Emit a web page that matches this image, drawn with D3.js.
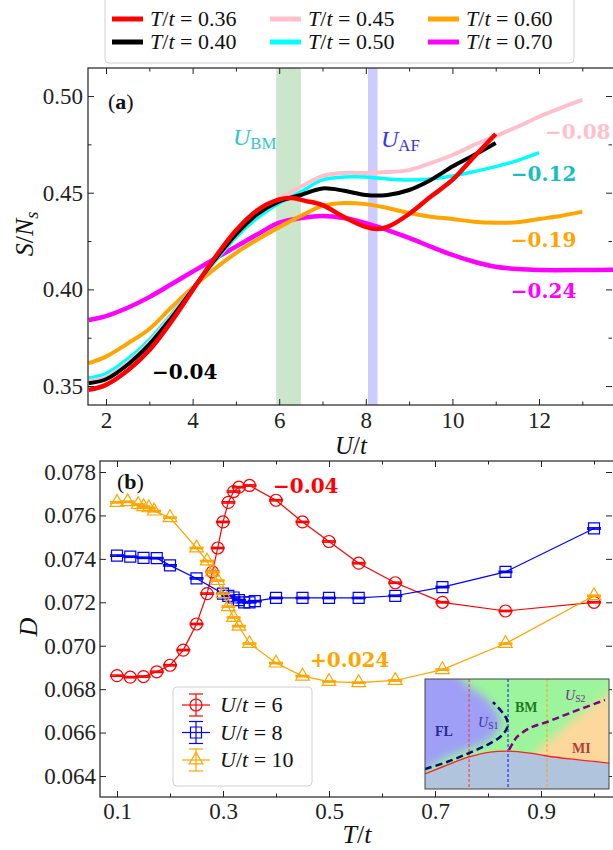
<!DOCTYPE html>
<html>
<head>
<meta charset="utf-8">
<script src="https://cdn.jsdelivr.net/npm/d3@7"></script>
<style>
  html, body { margin: 0; padding: 0; background: #fff; }
  svg { display: block; }
</style>
</head>
<body>
<div id="chart"></div>
<script>
// ---- panel (a): S/N_s vs U/t, one curve per temperature ----
const tempLabels = ["0.36", "0.40", "0.45", "0.50", "0.60", "0.70"];
const tempColors = ["#ff0000", "#000000", "#ffc0cb", "#00ffff", "#ffa500", "#ff00ff"];
const tempWidths = [4.5, 4, 4, 3.5, 4, 4.5];

const uT036 = [1.6, 2, 2.5, 3, 3.5, 4, 4.5, 5, 5.5, 6, 6.3, 6.6, 7, 7.5, 8, 8.25, 8.5, 9, 9.5, 10, 10.5, 11];
const sT036 = [0.348, 0.3506, 0.358, 0.3685, 0.383, 0.3995, 0.416, 0.4305, 0.441, 0.4465, 0.4472, 0.4458, 0.4436, 0.4374, 0.4323, 0.4312, 0.4323, 0.439, 0.448, 0.4566, 0.4686, 0.4804];

const uT040 = [1.6, 2, 2.5, 3, 3.5, 4, 4.5, 5, 5.5, 6, 6.5, 7, 7.5, 8, 8.5, 9, 9.5, 10, 10.5, 11];
const sT040 = [0.3515, 0.3535, 0.361, 0.3715, 0.385, 0.4, 0.415, 0.4285, 0.439, 0.4455, 0.4488, 0.4522, 0.451, 0.4488, 0.4488, 0.4514, 0.4566, 0.4635, 0.4695, 0.4757];

const uT045 = [1.6, 2, 2.5, 3, 3.5, 4, 4.5, 5, 5.5, 6, 6.5, 7, 7.5, 8, 8.5, 9, 9.5, 10, 10.5, 11, 11.5, 12, 12.5, 13];
const sT045 = [0.3525, 0.3545, 0.362, 0.3725, 0.386, 0.4003, 0.4152, 0.429, 0.4395, 0.447, 0.4531, 0.4586, 0.4602, 0.4602, 0.4607, 0.4617, 0.4653, 0.4695, 0.4747, 0.4793, 0.4841, 0.4893, 0.4938, 0.498];

const uT050 = [1.6, 2, 2.5, 3, 3.5, 4, 4.5, 5, 5.5, 6, 6.5, 7, 7.5, 8, 8.5, 9, 9.5, 10, 10.5, 11, 11.5, 12];
const sT050 = [0.3542, 0.3565, 0.364, 0.374, 0.387, 0.4005, 0.414, 0.427, 0.437, 0.4445, 0.4505, 0.4566, 0.4581, 0.4581, 0.4571, 0.4566, 0.4571, 0.4586, 0.4609, 0.4635, 0.4666, 0.4707];

const uT060 = [1.6, 2, 2.5, 3, 3.5, 4, 4.5, 5, 5.5, 6, 6.5, 7, 7.5, 8, 8.5, 9, 9.5, 10, 10.5, 11, 11.5, 12, 12.5, 13];
const sT060 = [0.3618, 0.3652, 0.372, 0.3795, 0.3905, 0.401, 0.4105, 0.4188, 0.4258, 0.4322, 0.438, 0.4432, 0.4447, 0.4441, 0.4421, 0.4395, 0.4376, 0.4364, 0.435, 0.4345, 0.4347, 0.4364, 0.438, 0.4402];

const uT070 = [1.6, 2, 2.5, 3, 3.5, 4, 4.5, 5, 5.5, 6, 6.5, 7, 7.5, 8, 8.5, 9, 9.5, 10, 10.5, 11, 11.5, 12, 13, 13.8];
const sT070 = [0.3842, 0.3862, 0.3905, 0.396, 0.4025, 0.4092, 0.4157, 0.4221, 0.4285, 0.4345, 0.4369, 0.438, 0.4369, 0.4343, 0.4307, 0.4266, 0.4221, 0.4178, 0.4143, 0.4117, 0.4105, 0.41, 0.41, 0.4102];

const slopeLabels = ["\u22120.04", "\u22120.08", "\u22120.12", "\u22120.19", "\u22120.24"];
const slopeColors = ["#000000", "#ffc0cb", "#17bfbf", "#ffa500", "#ff00ff"];
const slopeU = [3.06, 12.14, 11.35, 11.35, 11.35];
const slopeS = [0.3536, 0.4777, 0.456, 0.4219, 0.3955];

const bmBand = [5.93, 6.5];
const afBand = [8.05, 8.27];

const xTicksA = [2, 4, 6, 8, 10, 12];
const xMinorA = [3, 5, 7, 9, 11, 13];
const yTicksA = [0.35, 0.40, 0.45, 0.50];
const yMinorA = [0.375, 0.425, 0.475];

// ---- panel (b): D vs T/t ----
const tU6 = [0.1, 0.125, 0.15, 0.175, 0.2, 0.225, 0.25, 0.27, 0.28, 0.29, 0.30, 0.31, 0.32, 0.33, 0.35, 0.4, 0.45, 0.5, 0.556, 0.625, 0.714, 0.833, 1.0];
const dU6 = [0.06862, 0.06855, 0.06858, 0.0688, 0.0691, 0.0698, 0.0710, 0.0724, 0.0734, 0.0745, 0.0757, 0.0766, 0.0771, 0.0773, 0.07738, 0.0767, 0.0757, 0.0748, 0.0738, 0.0729, 0.0720, 0.0716, 0.0720];

const tU8 = [0.1, 0.125, 0.15, 0.175, 0.2, 0.25, 0.3, 0.31, 0.32, 0.33, 0.34, 0.35, 0.36, 0.4, 0.45, 0.5, 0.556, 0.625, 0.714, 0.833, 1.0];
const dU8 = [0.07415, 0.0741, 0.07405, 0.07403, 0.0737, 0.0731, 0.0724, 0.0723, 0.07222, 0.0721, 0.0720, 0.0720, 0.07205, 0.0722, 0.0722, 0.0722, 0.0722, 0.0723, 0.0727, 0.0734, 0.0754];

const tU10 = [0.1, 0.12, 0.14, 0.15, 0.16, 0.17, 0.2, 0.25, 0.27, 0.28, 0.29, 0.30, 0.31, 0.32, 0.33, 0.35, 0.4, 0.45, 0.5, 0.556, 0.625, 0.714, 0.833, 1.0];
const dU10 = [0.0766, 0.07663, 0.0765, 0.0764, 0.07635, 0.0762, 0.0759, 0.0745, 0.0739, 0.0734, 0.0730, 0.0724, 0.0718, 0.0713, 0.0709, 0.0701, 0.0692, 0.0686, 0.06835, 0.0683, 0.0684, 0.0689, 0.0701, 0.0723];

const errU6 = 0.00003;
const errU8 = 0.00003;
const errU10 = 0.00003;

const xTicksB = [0.1, 0.3, 0.5, 0.7, 0.9];
const xMinorB = [0.2, 0.4, 0.6, 0.8, 1.0];
const yTicksB = [0.064, 0.066, 0.068, 0.070, 0.072, 0.074, 0.076, 0.078];

// ---- inset phase diagram (x in U/t, y as fraction of inset height) ----
const insetRedU = [3.5, 4.87, 6.0, 7.08, 8.0, 9.13, 10.0, 11.18, 13.4];
const insetRedY = [0.12, 0.218, 0.291, 0.336, 0.345, 0.327, 0.3, 0.273, 0.232];
const insetS1U = [3.74, 4.87, 6.0, 6.92, 7.59, 7.95, 7.95, 7.69, 7.23];
const insetS1Y = [0.182, 0.245, 0.327, 0.4, 0.473, 0.555, 0.627, 0.7, 0.79];
const insetS2U = [8.05, 8.25, 8.46, 9.13, 10.0, 11.18, 12.97];
const insetS2Y = [0.355, 0.418, 0.473, 0.555, 0.609, 0.691, 0.809];
const insetFLU = [2.8, 4.6, 5.9, 7.0, 7.6, 7.2, 6.2, 5.0, 2.8];
const insetFLY = [1.3, 1.2, 0.95, 0.8, 0.62, 0.47, 0.38, 0.3, 0.14];
const insetMIU = [14.2, 13.18, 11.8, 10.5, 9.4, 14.2];
const insetMIY = [1.05, 0.87, 0.69, 0.5, 0.3, 0.2];
const insetDashU = [6, 8, 10];
const insetDashColors = ["#ff3030", "#1010ff", "#ffa500"];

// ---------------------------------------------------------------
const width = 613;
const height = 850;
const serif = "'Liberation Serif', 'Times New Roman', serif";
const boldSerif = "'DejaVu Serif', serif";

const svg = d3.select("#chart")
  .append("svg")
  .attr("width", width)
  .attr("height", height)
  .attr("viewBox", `0 0 ${width} ${height}`)
  .attr("font-family", serif)
  .attr("fill", "#111");

const defs = svg.append("defs");

// write a math-like label from parts [text, italic?, sub?]
const mathText = (sel, parts) => {
  parts.forEach(([t, it, sub]) => {
    const ts = sel.append("tspan").text(t);
    if (it) ts.attr("font-style", "italic");
    if (sub) ts.attr("font-size", "0.7em").attr("dy", "0.25em");
  });
  return sel;
};

const frameColor = "#222";

const styleAxis = (g, fontSize) => {
  g.select(".domain").remove();
  g.selectAll("line").attr("stroke", frameColor).attr("stroke-width", 1);
  g.selectAll("text")
    .attr("font-family", serif)
    .attr("font-size", fontSize)
    .attr("fill", "#222");
};

// ================= panel (a) =================
const pa = { left: 88, top: 68, right: 615, bottom: 405 };

const xA = d3.scaleLinear().domain([1.584, 13.755]).range([pa.left, pa.right]);
const yA = d3.scaleLinear().domain([0.3402, 0.5145]).range([pa.bottom, pa.top]);

defs.append("clipPath").attr("id", "clipA")
  .append("rect")
  .attr("x", pa.left).attr("y", pa.top)
  .attr("width", pa.right - pa.left).attr("height", pa.bottom - pa.top);

const layerA = svg.append("g").attr("clip-path", "url(#clipA)");

// shaded bands
layerA.append("rect")
  .attr("x", xA(bmBand[0])).attr("width", xA(bmBand[1]) - xA(bmBand[0]))
  .attr("y", pa.top).attr("height", pa.bottom - pa.top)
  .attr("fill", "green").attr("fill-opacity", 0.2);
layerA.append("rect")
  .attr("x", xA(afBand[0])).attr("width", xA(afBand[1]) - xA(afBand[0]))
  .attr("y", pa.top).attr("height", pa.bottom - pa.top)
  .attr("fill", "blue").attr("fill-opacity", 0.2);

const seriesA = [
  { u: uT036, s: sT036 },
  { u: uT040, s: sT040 },
  { u: uT045, s: sT045 },
  { u: uT050, s: sT050 },
  { u: uT060, s: sT060 },
  { u: uT070, s: sT070 },
].map((d, i) => ({
  pts: d.u.map((u, j) => [u, d.s[j]]),
  color: tempColors[i],
  width: tempWidths[i],
}));

const lineA = d3.line()
  .x((d) => xA(d[0]))
  .y((d) => yA(d[1]))
  .curve(d3.curveCatmullRom.alpha(0.5));

// draw highest temperature first so red ends on top
layerA.selectAll("path.curve")
  .data(seriesA.slice().reverse())
  .enter()
  .append("path")
  .attr("class", "curve")
  .attr("d", (d) => lineA(d.pts))
  .attr("fill", "none")
  .attr("stroke", (d) => d.color)
  .attr("stroke-width", (d) => d.width)
  .attr("stroke-linecap", "butt");

// slope labels
svg.selectAll("text.slope")
  .data(slopeLabels)
  .enter()
  .append("text")
  .attr("class", "slope")
  .attr("x", (d, i) => xA(slopeU[i]))
  .attr("y", (d, i) => yA(slopeS[i]))
  .attr("font-family", boldSerif)
  .attr("font-weight", "bold")
  .attr("font-size", 20)
  .attr("fill", (d, i) => slopeColors[i])
  .text((d) => d);

// U_BM and U_AF labels
mathText(
  svg.append("text").attr("x", 233).attr("y", 145).attr("font-size", 24).attr("fill", "#35c4c4"),
  [["U", true], ["BM", false, true]]
);
mathText(
  svg.append("text").attr("x", 381).attr("y", 147).attr("font-size", 24).attr("fill", "#3535ee"),
  [["U", true], ["AF", false, true]]
);

// axes (a)
const axA = svg.append("g");
axA.append("g").attr("transform", `translate(0,${pa.bottom})`)
  .call(d3.axisBottom(xA).tickValues(xTicksA).tickSize(-6).tickPadding(7).tickFormat(d3.format("d")))
  .call((g) => styleAxis(g, 23));
axA.append("g").attr("transform", `translate(0,${pa.bottom})`)
  .call(d3.axisBottom(xA).tickValues(xMinorA).tickSize(-3.5).tickFormat(""))
  .call((g) => styleAxis(g, 23));
axA.append("g").attr("transform", `translate(0,${pa.top})`)
  .call(d3.axisTop(xA).tickValues(xTicksA).tickSize(-6).tickFormat(""))
  .call((g) => styleAxis(g, 23));
axA.append("g").attr("transform", `translate(0,${pa.top})`)
  .call(d3.axisTop(xA).tickValues(xMinorA).tickSize(-3.5).tickFormat(""))
  .call((g) => styleAxis(g, 23));
axA.append("g").attr("transform", `translate(${pa.left},0)`)
  .call(d3.axisLeft(yA).tickValues(yTicksA).tickSize(-6).tickPadding(5).tickFormat(d3.format(".2f")))
  .call((g) => styleAxis(g, 23));
axA.append("g").attr("transform", `translate(${pa.left},0)`)
  .call(d3.axisLeft(yA).tickValues(yMinorA).tickSize(-3.5).tickFormat(""))
  .call((g) => styleAxis(g, 23));
axA.append("g").attr("transform", `translate(${pa.right - 3},0)`)
  .call(d3.axisRight(yA).tickValues(yTicksA).tickSize(-6).tickFormat(""))
  .call((g) => styleAxis(g, 23));
axA.append("g").attr("transform", `translate(${pa.right - 3},0)`)
  .call(d3.axisRight(yA).tickValues(yMinorA).tickSize(-3.5).tickFormat(""))
  .call((g) => styleAxis(g, 23));

svg.append("rect")
  .attr("x", pa.left).attr("y", pa.top)
  .attr("width", pa.right - pa.left).attr("height", pa.bottom - pa.top)
  .attr("fill", "none").attr("stroke", frameColor).attr("stroke-width", 1.2);

// axis titles (a)
mathText(
  svg.append("text").attr("x", 351).attr("y", 454).attr("text-anchor", "middle").attr("font-size", 25),
  [["U", true], ["/", false], ["t", true]]
);
mathText(
  svg.append("text").attr("transform", "translate(33,234) rotate(-90)").attr("text-anchor", "middle").attr("font-size", 26),
  [["S", true], ["/", false], ["N", true], ["s", true, true]]
);
mathText(
  svg.append("text").attr("x", 108).attr("y", 109).attr("font-size", 22),
  [["(", false], ["a", false], [")", false]]
).selectAll("tspan").filter((d, i) => i === 1).attr("font-weight", "bold");

// top legend
const legendTop = svg.append("g");
legendTop.append("rect")
  .attr("x", 105).attr("y", -6).attr("width", 469).attr("height", 69)
  .attr("rx", 4).attr("fill", "#fff").attr("fill-opacity", 0.8)
  .attr("stroke", "#d0d0d0").attr("stroke-width", 1);

tempLabels.forEach((lab, i) => {
  const col = Math.floor(i / 2);
  const row = i % 2;
  const x0 = 112 + col * 158;
  const yc = 19 + row * 23;
  const entry = legendTop.append("g");
  entry.append("line")
    .attr("x1", x0).attr("x2", x0 + 31)
    .attr("y1", yc).attr("y2", yc)
    .attr("stroke", tempColors[i]).attr("stroke-width", 5);
  mathText(
    entry.append("text").attr("x", x0 + 38).attr("y", yc + 7).attr("font-size", 22),
    [["T", true], ["/", false], ["t", true], [" = " + lab, false]]
  );
});

// ================= panel (b) =================
const pb = { left: 100, top: 461, right: 615, bottom: 797 };

const xB = d3.scaleLinear().domain([0.0679, 1.0396]).range([pb.left, pb.right]);
const yB = d3.scaleLinear().domain([0.063033, 0.078507]).range([pb.bottom, pb.top]);

const seriesB = [
  { t: tU6, d: dU6, err: errU6, color: "#ff0000", symbol: d3.symbolCircle, size: 113, label: "6" },
  { t: tU8, d: dU8, err: errU8, color: "#0000ff", symbol: d3.symbolSquare, size: 121, label: "8" },
  { t: tU10, d: dU10, err: errU10, color: "#ffa500", symbol: d3.symbolTriangle, size: 80, label: "10" },
];

const lineB = d3.line().x((d) => xB(d[0])).y((d) => yB(d[1]));
const layerB = svg.append("g");

seriesB.forEach((s) => {
  const pts = s.t.map((t, j) => [t, s.d[j]]);
  const g = layerB.append("g");
  g.append("path")
    .attr("d", lineB(pts))
    .attr("fill", "none")
    .attr("stroke", s.color)
    .attr("stroke-width", 1.2);
  const pt = g.selectAll("g.pt").data(pts).enter().append("g").attr("class", "pt");
  pt.append("line")
    .attr("x1", (d) => xB(d[0])).attr("x2", (d) => xB(d[0]))
    .attr("y1", (d) => yB(d[1] - s.err)).attr("y2", (d) => yB(d[1] + s.err))
    .attr("stroke", s.color).attr("stroke-width", 1.5);
  [-1, 1].forEach((sgn) => {
    pt.append("line")
      .attr("x1", (d) => xB(d[0]) - 7).attr("x2", (d) => xB(d[0]) + 7)
      .attr("y1", (d) => yB(d[1] + sgn * s.err)).attr("y2", (d) => yB(d[1] + sgn * s.err))
      .attr("stroke", s.color).attr("stroke-width", 1.5);
  });
  pt.append("path")
    .attr("transform", (d) => `translate(${xB(d[0])},${yB(d[1])})`)
    .attr("d", d3.symbol().type(s.symbol).size(s.size))
    .attr("fill", "none")
    .attr("stroke", s.color)
    .attr("stroke-width", 1.2);
});

// slope labels (b)
svg.append("text")
  .attr("x", 273).attr("y", 493)
  .attr("font-family", boldSerif).attr("font-weight", "bold").attr("font-size", 20)
  .attr("fill", "#ff0000").text("\u22120.04");
svg.append("text")
  .attr("x", 310).attr("y", 667)
  .attr("font-family", boldSerif).attr("font-weight", "bold").attr("font-size", 20)
  .attr("fill", "#ffa500").text("+0.024");

// axes (b)
const axB = svg.append("g");
axB.append("g").attr("transform", `translate(0,${pb.bottom})`)
  .call(d3.axisBottom(xB).tickValues(xTicksB).tickSize(-6).tickPadding(6).tickFormat(d3.format(".1f")))
  .call((g) => styleAxis(g, 23));
axB.append("g").attr("transform", `translate(0,${pb.bottom})`)
  .call(d3.axisBottom(xB).tickValues(xMinorB).tickSize(-3.5).tickFormat(""))
  .call((g) => styleAxis(g, 23));
axB.append("g").attr("transform", `translate(0,${pb.top})`)
  .call(d3.axisTop(xB).tickValues(xTicksB).tickSize(-6).tickFormat(""))
  .call((g) => styleAxis(g, 23));
axB.append("g").attr("transform", `translate(0,${pb.top})`)
  .call(d3.axisTop(xB).tickValues(xMinorB).tickSize(-3.5).tickFormat(""))
  .call((g) => styleAxis(g, 23));
axB.append("g").attr("transform", `translate(${pb.left},0)`)
  .call(d3.axisLeft(yB).tickValues(yTicksB).tickSize(-6).tickPadding(4).tickFormat(d3.format(".3f")))
  .call((g) => styleAxis(g, 23));
axB.append("g").attr("transform", `translate(${pb.right - 3},0)`)
  .call(d3.axisRight(yB).tickValues(yTicksB).tickSize(-6).tickFormat(""))
  .call((g) => styleAxis(g, 23));

svg.append("rect")
  .attr("x", pb.left).attr("y", pb.top)
  .attr("width", pb.right - pb.left).attr("height", pb.bottom - pb.top)
  .attr("fill", "none").attr("stroke", frameColor).attr("stroke-width", 1.2);

mathText(
  svg.append("text").attr("x", 357).attr("y", 843).attr("text-anchor", "middle").attr("font-size", 26),
  [["T", true], ["/", false], ["t", true]]
);
svg.append("text")
  .attr("transform", "translate(37,627) rotate(-90)")
  .attr("text-anchor", "middle").attr("font-size", 26).attr("font-style", "italic")
  .text("D");
mathText(
  svg.append("text").attr("x", 117).attr("y", 489).attr("font-size", 22),
  [["(", false], ["b", false], [")", false]]
).selectAll("tspan").filter((d, i) => i === 1).attr("font-weight", "bold");

// legend (b)
const legendB = svg.append("g");
legendB.append("rect")
  .attr("x", 173).attr("y", 687).attr("width", 139).attr("height", 99)
  .attr("rx", 4).attr("fill", "#fff").attr("fill-opacity", 0.8)
  .attr("stroke", "#d0d0d0").attr("stroke-width", 1);
seriesB.forEach((s, i) => {
  const yc = 705 + i * 27.5;
  const xc = 196;
  const g = legendB.append("g");
  g.append("line").attr("x1", xc - 14).attr("x2", xc + 14).attr("y1", yc).attr("y2", yc)
    .attr("stroke", s.color).attr("stroke-width", 1.2);
  g.append("line").attr("x1", xc).attr("x2", xc).attr("y1", yc - 11).attr("y2", yc + 11)
    .attr("stroke", s.color).attr("stroke-width", 1.2);
  [-11, 11].forEach((dy) => {
    g.append("line").attr("x1", xc - 7).attr("x2", xc + 7).attr("y1", yc + dy).attr("y2", yc + dy)
      .attr("stroke", s.color).attr("stroke-width", 1.2);
  });
  g.append("path")
    .attr("transform", `translate(${xc},${yc})`)
    .attr("d", d3.symbol().type(s.symbol).size(s.size))
    .attr("fill", "none").attr("stroke", s.color).attr("stroke-width", 1.2);
  mathText(
    g.append("text").attr("x", 220).attr("y", yc + 7).attr("font-size", 22),
    [["U", true], ["/", false], ["t", true], [" = " + s.label, false]]
  );
});

// ================= inset =================
const pi = { left: 425, top: 679, right: 609, bottom: 789 };
const xI = d3.scaleLinear().domain([3.74, 13.18]).range([pi.left, pi.right]);
const yI = d3.scaleLinear().domain([0, 1]).range([pi.bottom, pi.top]);

defs.append("clipPath").attr("id", "clipI")
  .append("rect")
  .attr("x", pi.left).attr("y", pi.top)
  .attr("width", pi.right - pi.left).attr("height", pi.bottom - pi.top);

const blur = defs.append("filter").attr("id", "blurI")
  .attr("x", "-30%").attr("y", "-30%").attr("width", "160%").attr("height", "160%");
blur.append("feGaussianBlur").attr("stdDeviation", 5);

const inset = svg.append("g").attr("clip-path", "url(#clipI)");
inset.append("rect")
  .attr("x", pi.left).attr("y", pi.top)
  .attr("width", pi.right - pi.left).attr("height", pi.bottom - pi.top)
  .attr("fill", "#9cf59c");

const polyI = d3.line().x((d) => xI(d[0])).y((d) => yI(d[1])).curve(d3.curveCatmullRomClosed);
const blurred = inset.append("g").attr("filter", "url(#blurI)");
blurred.append("path")
  .attr("d", polyI(insetFLU.map((u, j) => [u, insetFLY[j]])))
  .attr("fill", "#9f9ff8");
blurred.append("path")
  .attr("d", polyI(insetMIU.map((u, j) => [u, insetMIY[j]])))
  .attr("fill", "#fdd89c");

const redPts = insetRedU.map((u, j) => [u, insetRedY[j]]);
const areaI = d3.area()
  .x((d) => xI(d[0])).y0(pi.bottom + 5).y1((d) => yI(d[1]))
  .curve(d3.curveCatmullRom.alpha(0.5));
inset.append("path").attr("d", areaI(redPts)).attr("fill", "#b0c4de");

insetDashU.forEach((u, i) => {
  inset.append("line")
    .attr("x1", xI(u)).attr("x2", xI(u))
    .attr("y1", pi.top).attr("y2", pi.bottom)
    .attr("stroke", insetDashColors[i]).attr("stroke-width", 1)
    .attr("stroke-dasharray", "3,2");
});

const lineI = d3.line().x((d) => xI(d[0])).y((d) => yI(d[1])).curve(d3.curveCatmullRom.alpha(0.5));
inset.append("path").attr("d", lineI(redPts))
  .attr("fill", "none").attr("stroke", "#ff2020").attr("stroke-width", 1.3);
inset.append("path").attr("d", lineI(insetS1U.map((u, j) => [u, insetS1Y[j]])))
  .attr("fill", "none").attr("stroke", "#0a0a70").attr("stroke-width", 2.5)
  .attr("stroke-dasharray", "7,4");
inset.append("path").attr("d", lineI(insetS2U.map((u, j) => [u, insetS2Y[j]])))
  .attr("fill", "none").attr("stroke", "#800080").attr("stroke-width", 2.5)
  .attr("stroke-dasharray", "7,4");

inset.append("text").attr("x", 435).attr("y", 736).attr("font-size", 14).attr("font-weight", "bold")
  .attr("fill", "#2a2a8a").text("FL");
mathText(
  inset.append("text").attr("x", 478).attr("y", 727).attr("font-size", 14).attr("fill", "#3a3a9a"),
  [["U", true], ["S1", false, true]]
);
inset.append("text").attr("x", 515).attr("y", 712).attr("font-size", 14).attr("font-weight", "bold")
  .attr("fill", "#1e7a1e").text("BM");
mathText(
  inset.append("text").attr("x", 565).attr("y", 700).attr("font-size", 14).attr("fill", "#7a2a8a"),
  [["U", true], ["S2", false, true]]
);
inset.append("text").attr("x", 572).attr("y", 753).attr("font-size", 14).attr("font-weight", "bold")
  .attr("fill", "#b0403a").text("MI");

svg.append("rect")
  .attr("x", pi.left).attr("y", pi.top)
  .attr("width", pi.right - pi.left).attr("height", pi.bottom - pi.top)
  .attr("fill", "none").attr("stroke", "#444").attr("stroke-width", 1);
</script>
</body>
</html>
